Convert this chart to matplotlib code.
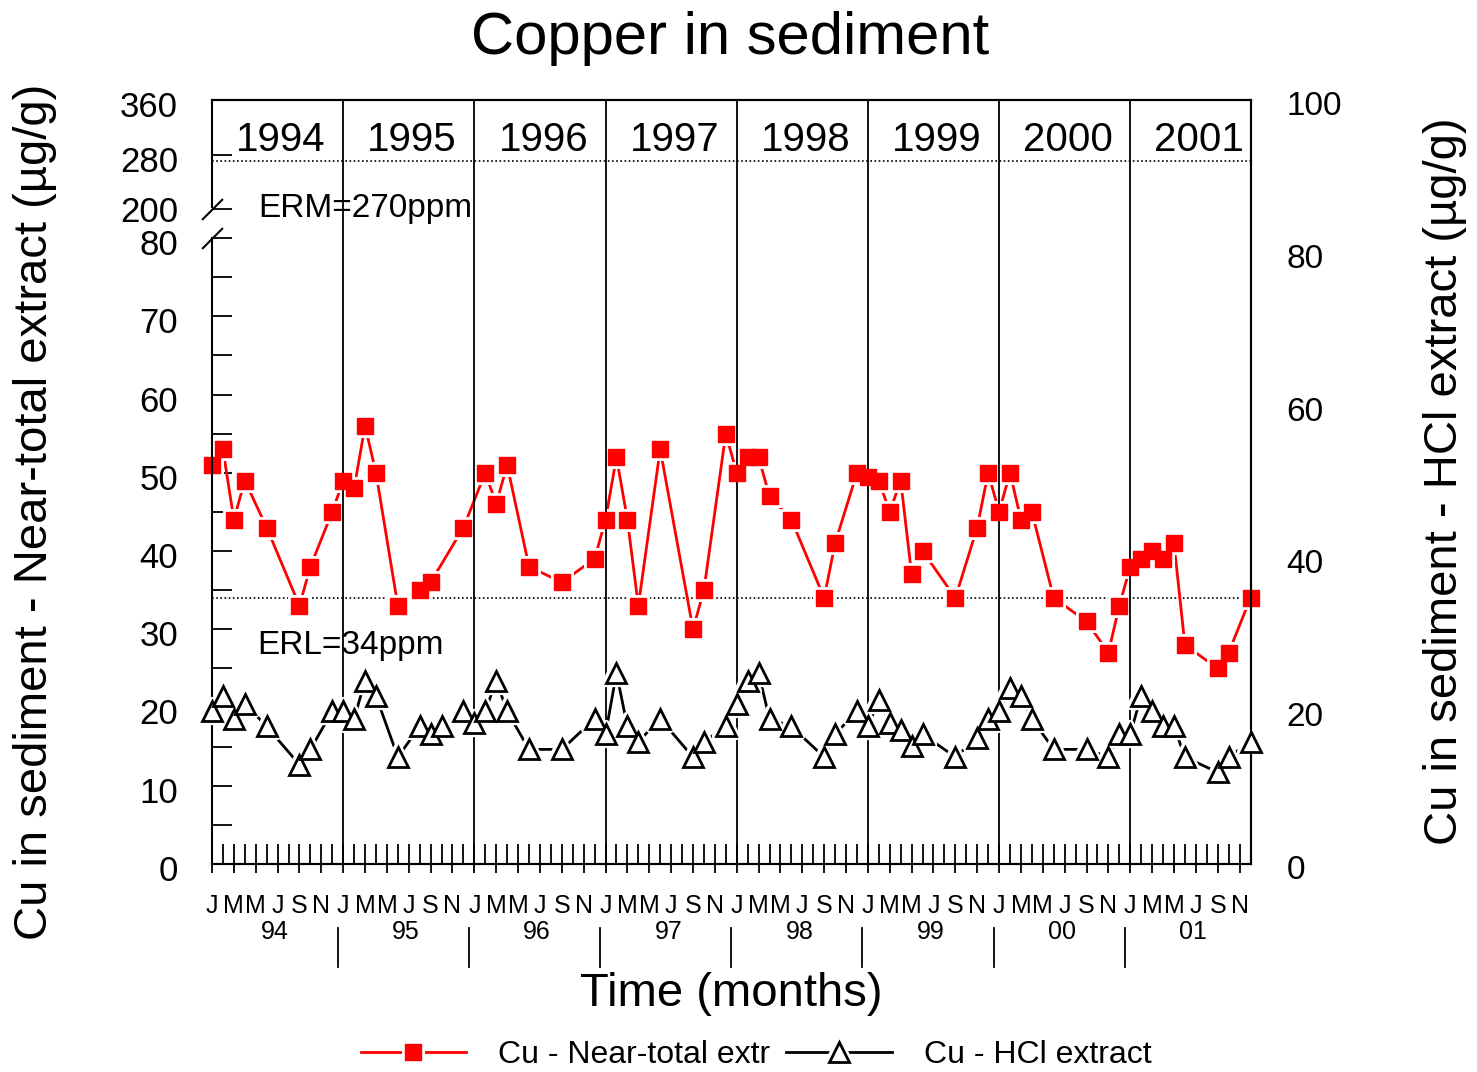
import numpy as np
import matplotlib
matplotlib.use('Agg')
import matplotlib.pyplot as plt
import matplotlib.transforms as mtransforms
from matplotlib.markers import MarkerStyle
from matplotlib.legend_handler import HandlerTuple

plt.rcParams['font.family'] = ['Liberation Sans', 'DejaVu Sans']

# months counted from Jan 1994 (0) to Dec 2001 (95)
near_months = [0, 1, 2, 3, 5, 8, 9, 11, 12, 13, 14, 15, 17, 19, 20, 23,
               25, 26, 27, 29, 32, 35, 36, 37, 38, 39, 41, 44, 45, 47,
               48, 49, 50, 51, 53, 56, 57, 59, 60, 61, 62, 63, 64, 65, 68, 70, 71,
               72, 73, 74, 75, 77, 80, 82, 83, 84, 85, 86, 87, 88, 89, 92, 93, 95]
near_vals = [51, 53, 44, 49, 43, 33, 38, 45, 49, 48, 56, 50, 33, 35, 36, 43,
             50, 46, 51, 38, 36, 39, 44, 52, 44, 33, 53, 30, 35, 55,
             50, 52, 52, 47, 44, 34, 41, 50, 49.5, 49, 45, 49, 37, 40, 34, 43, 50,
             45, 50, 44, 45, 34, 31, 27, 33, 38, 39, 40, 39, 41, 28, 25, 27, 34]

hcl_months = [0, 1, 2, 3, 5, 8, 9, 11, 12, 13, 14, 15, 17, 19, 20, 21, 23,
              24, 25, 26, 27, 29, 32, 35, 36, 37, 38, 39, 41, 44, 45, 47,
              48, 49, 50, 51, 53, 56, 57, 59, 60, 61, 62, 63, 64, 65, 68, 70, 71,
              72, 73, 74, 75, 77, 80, 82, 83, 84, 85, 86, 87, 88, 89, 92, 93, 95]
hcl_vals = [20, 22, 19, 21, 18, 13, 15, 20, 20, 19, 24, 22, 14, 18, 17, 18, 20,
            18.5, 20, 24, 20, 15, 15, 19, 17, 25, 18, 16, 19, 14, 16, 18,
            21, 24, 25, 19, 18, 14, 17, 20, 18, 21.5, 18.5, 17.5, 15.5, 17, 14, 16.5, 19,
            20, 23, 22, 19, 15, 15, 14, 17, 17, 22, 20, 18, 18, 14, 12, 14, 16]

years = ['1994', '1995', '1996', '1997', '1998', '1999', '2000', '2001']
year_short = ['94', '95', '96', '97', '98', '99', '00', '01']
month_letters = ['J', 'M', 'M', 'J', 'S', 'N']
erm = 270
erl = 34


# broken left axis: 0-80 stretched, 80-200 squeezed, 200-360 compressed
def fwd(v):
    v = np.asarray(v, dtype=float)
    return np.where(v <= 80, v * 626 / 80,
                    np.where(v <= 200, 626 + (v - 80) * 29 / 120,
                             655 + (v - 200) * 109 / 160))


def inv(p):
    p = np.asarray(p, dtype=float)
    return np.where(p <= 626, p * 80 / 626,
                    np.where(p <= 655, 80 + (p - 626) * 120 / 29,
                             200 + (p - 655) * 160 / 109))


W, H = 1477, 1072
fig = plt.figure(figsize=(W / 100, H / 100), dpi=100)
ax = fig.add_axes([212 / W, (H - 864) / H, (1250.5 - 212) / W, (864 - 100) / H])
ax.set_yscale('function', functions=(fwd, inv))
ax.set_ylim(0, 360)
ax.set_xlim(0, 95)

# year separators and reference lines
for k in range(1, 8):
    ax.axvline(12 * k, color='black', lw=1.3, zorder=2.7)
ax.axhline(erm, color='black', lw=1.2, ls=(0, (1, 1.5)))
ax.axhline(erl, color='black', lw=1.2, ls=(0, (1, 1.5)))
ax.text(4.2, 200, 'ERM=270ppm', fontsize=24, va='center')
ax.text(4.1, 27.9, 'ERL=34ppm', fontsize=24, va='center')

trans = mtransforms.blended_transform_factory(ax.transData, ax.transAxes)
for k, yr in enumerate(years):
    ax.text(12 * k + 6.3, 0.948, yr, fontsize=29, ha='center', va='center',
            transform=trans)

# near-total series: line, white halo so the line stops short, then squares
r_line, = ax.plot(near_months, near_vals, color='red', lw=2, zorder=2,
                  clip_on=False)
r_halo, = ax.plot(near_months, near_vals, ls='none', marker='s', markersize=12,
                  markerfacecolor='white', markeredgecolor='white', mew=5,
                  zorder=2.5, clip_on=False)
r_mark, = ax.plot(near_months, near_vals, ls='none', marker='s', markersize=12,
                  markerfacecolor='red', markeredgecolor='red', mew=1,
                  zorder=3, clip_on=False)

# left spine with break marks
ax.spines['left'].set_visible(False)
ytrans = mtransforms.blended_transform_factory(ax.transAxes, ax.transData)
ax.plot([0, 0], [0, 80], color='black', lw=1.5, clip_on=False, zorder=4,
        transform=ytrans)
ax.plot([0, 0], [203, 360], color='black', lw=1.5, clip_on=False, zorder=4,
        transform=ytrans)
ax.plot([0, 0], [80, 200], ls='none', marker=[(-1, -1), (1, 1)], markersize=15,
        mew=1.5, color='black', clip_on=False, zorder=4, transform=ytrans)

left_ticks = list(range(0, 81, 10)) + [200, 280, 360]
ax.set_yticks(left_ticks)
ax.set_yticklabels([str(t) for t in left_ticks])
ax.set_yticks(list(range(5, 80, 10)), minor=True)
ax.tick_params(axis='y', which='both', direction='in', length=14.4, width=1.3,
               labelsize=25, pad=24.5)
shift = mtransforms.ScaledTranslation(0, -0.04, fig.dpi_scale_trans)
for t, tk in zip(left_ticks, ax.yaxis.get_major_ticks()):
    if t in (200, 360):
        tk.tick1line.set_visible(False)
    if t != 200:
        tk.label1.set_transform(tk.label1.get_transform() + shift)

# x axis: month ticks
ax.xaxis.remove_overlapping_locs = False
ax.set_xticks(list(range(0, 96, 2)))
ax.set_xticklabels(month_letters * 8)
ax.set_xticks(list(range(0, 96)), minor=True)
ax.tick_params(axis='x', which='minor', direction='in', length=14.4, width=1.3)
ax.tick_params(axis='x', which='major', direction='out', length=6.7, width=1.3,
               labelsize=18, pad=15)
for k, ys in enumerate(year_short):
    ax.text(12 * k + 5.75, -0.089, ys, fontsize=18, ha='center', va='center',
            transform=trans)
for k in range(1, 8):
    ax.plot([12 * k - 0.5, 12 * k - 0.5], [-0.084, -0.135], color='black',
            lw=1.3, clip_on=False, transform=trans)

for s in ['top', 'right', 'bottom']:
    ax.spines[s].set_linewidth(1.5)

# right axis for HCl extract
ax2 = ax.twinx()
ax2.set_ylim(0, 100)
ax2.set_yticks(range(0, 101, 20))
ax2.tick_params(axis='y', length=0, labelsize=24, pad=26)
shift_r = mtransforms.ScaledTranslation(0, -0.03, fig.dpi_scale_trans)
for tk in ax2.yaxis.get_major_ticks():
    tk.label2.set_transform(tk.label2.get_transform() + shift_r)
ax2.spines['left'].set_visible(False)
for s in ['top', 'right', 'bottom']:
    ax2.spines[s].set_linewidth(1.5)

tri = MarkerStyle('^', joinstyle='round')
k_line, = ax2.plot(hcl_months, hcl_vals, color='black', lw=2, zorder=2,
                   clip_on=False)
k_halo, = ax2.plot(hcl_months, hcl_vals, ls='none', marker=tri, markersize=15,
                   markerfacecolor='white', markeredgecolor='white', mew=6,
                   zorder=2.2, clip_on=False)
k_mark, = ax2.plot(hcl_months, hcl_vals, ls='none', marker='^', markersize=15,
                   markerfacecolor='white', markeredgecolor='black', mew=2,
                   zorder=3, clip_on=False)

fig.text(730 / W, 1 - 38 / H, 'Copper in sediment', fontsize=43,
         ha='center', va='center')
fig.text(731 / W, 1 - 994 / H, 'Time (months)', fontsize=34,
         ha='center', va='center')
fig.text(35 / W, 1 - 512 / H, 'Cu in sediment - Near-total extract (\u00b5g/g)',
         fontsize=34, rotation=90, ha='center', va='center')
fig.text(1445 / W, 1 - 481 / H, 'Cu in sediment - HCl extract (\u00b5g/g)',
         fontsize=34, rotation=90, ha='center', va='center')

fig.legend(handles=[(r_line, r_halo, r_mark), (k_line, k_halo, k_mark)],
           labels=['Cu - Near-total extr', 'Cu - HCl extract'],
           handler_map={tuple: HandlerTuple(ndivide=1)},
           loc='center', bbox_to_anchor=(756 / W, 1 - 1055 / H), ncol=2,
           frameon=False, fontsize=23, handlelength=3.3, handletextpad=1.0,
           columnspacing=0.5)

fig.savefig('out.png', dpi=100)
